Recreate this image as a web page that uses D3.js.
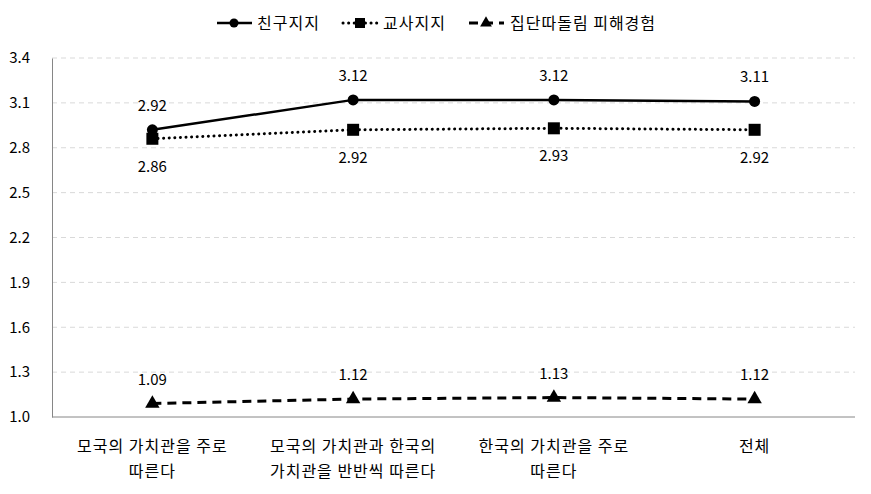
<!DOCTYPE html>
<html><head><meta charset="utf-8">
<script src="https://cdn.jsdelivr.net/npm/d3@7"></script>
<style>body{margin:0;background:#fff}svg{display:block}text{font-family:"Malgun Gothic","Noto Sans CJK KR",sans-serif;fill:#000}</style>
</head><body>
<svg id="c" width="871" height="494"></svg>
<script>
const categories = [["모국의 가치관을 주로","따른다"],["모국의 가치관과 한국의","가치관을 반반씩 따른다"],["한국의 가치관을 주로","따른다"],["전체"]];
const seriesNames = ["친구지지","교사지지","집단따돌림 피해경험"];
const friend = [2.92,3.12,3.12,3.11];
const teacher = [2.86,2.92,2.93,2.92];
const bully = [1.09,1.12,1.13,1.12];
const yTicks = [1.0,1.3,1.6,1.9,2.2,2.5,2.8,3.1,3.4];

const svg = d3.select("#c");
const m = {l:52, r:855, t:58, b:417};
const x = d3.scaleBand().domain(d3.range(categories.length)).range([m.l, m.r]);
const y = d3.scaleLinear().domain([1.0,3.4]).range([m.b, m.t]);
const cx = i => x(i) + x.bandwidth()/2;

// grid
svg.append("g").selectAll("line").data(yTicks.slice(1)).join("line")
  .attr("x1", m.l).attr("x2", m.r).attr("y1", d=>y(d)).attr("y2", d=>y(d))
  .attr("stroke","#d9d9d9").attr("stroke-dasharray","5,4").attr("stroke-width",1);
// y axis
const ya = svg.append("g").attr("transform",`translate(${m.l},0)`)
  .call(d3.axisLeft(y).tickValues(yTicks).tickFormat(d3.format(".1f")).tickSize(0).tickPadding(22));
ya.select(".domain").attr("stroke","#868686");
ya.selectAll("text").attr("font-size",15).style("font-family",'"Malgun Gothic","Noto Sans CJK KR",sans-serif');
// x axis baseline
svg.append("line").attr("x1",m.l).attr("x2",m.r).attr("y1",m.b).attr("y2",m.b).attr("stroke","#868686");
// x labels
const xl = svg.append("g").selectAll("text").data(categories).join("text")
  .attr("text-anchor","middle").attr("font-size",16).attr("letter-spacing",1).attr("x",(d,i)=>cx(i));
xl.selectAll("tspan").data(d=>d).join("tspan").attr("x",function(){return this.parentNode.getAttribute("x");})
  .attr("y",(d,j)=>452+j*25).text(d=>d);

const line = d3.line().x((d,i)=>cx(i)).y(d=>y(d));
const series = [
  {v:friend, dash:null, w:2.5, mk:"circle", off:-24, cap:"butt"},
  {v:teacher, dash:"0.1,5.5", w:3, mk:"square", off:28, cap:"round"},
  {v:bully, dash:"9,6", w:3, mk:"triangle", off:-24, cap:"butt"}
];
function marker(g, type, px, py){
  if(type==="circle") g.append("circle").attr("cx",px).attr("cy",py).attr("r",5.5).attr("fill","#000");
  else if(type==="square") g.append("rect").attr("x",px-6).attr("y",py-6).attr("width",12).attr("height",12).attr("fill","#000");
  else g.append("path").attr("d",d3.symbol(d3.symbolTriangle,90)()).attr("transform",`translate(${px},${py})`).attr("fill","#000");
}
series.forEach(s=>{
  svg.append("path").datum(s.v).attr("d",line).attr("fill","none").attr("stroke","#000")
    .attr("stroke-width",s.w).attr("stroke-dasharray",s.dash).attr("stroke-linecap", s.cap);
  const g = svg.append("g");
  s.v.forEach((d,i)=>marker(g,s.mk,cx(i),y(d)));
  svg.append("g").selectAll("text").data(s.v).join("text").attr("text-anchor","middle")
    .attr("font-size",15).attr("x",(d,i)=>cx(i)).attr("y",d=>y(d)+s.off+5).text(d=>d.toFixed(2));
});

// legend
const leg = [{x:217,tx:257},{x:343,tx:383},{x:469,tx:510}];
series.forEach((s,i)=>{
  const L = leg[i], ly=23;
  svg.append("line").attr("x1",L.x).attr("x2",L.x+35).attr("y1",ly).attr("y2",ly).attr("stroke","#000")
    .attr("stroke-width",s.w).attr("stroke-dasharray",s.dash).attr("stroke-linecap", s.cap);
  const g = svg.append("g");
  if(s.mk==="circle") g.append("circle").attr("cx",L.x+17).attr("cy",ly).attr("r",4.5).attr("fill","#000");
  else if(s.mk==="square") g.append("rect").attr("x",L.x+12).attr("y",ly-5).attr("width",10).attr("height",10).attr("fill","#000");
  else g.append("path").attr("d",d3.symbol(d3.symbolTriangle,60)()).attr("transform",`translate(${L.x+17},${ly})`).attr("fill","#000");
  svg.append("text").attr("x",L.tx).attr("y",ly+6).attr("font-size",16).attr("letter-spacing",1).text(seriesNames[i]);
});
</script>
</body></html>
